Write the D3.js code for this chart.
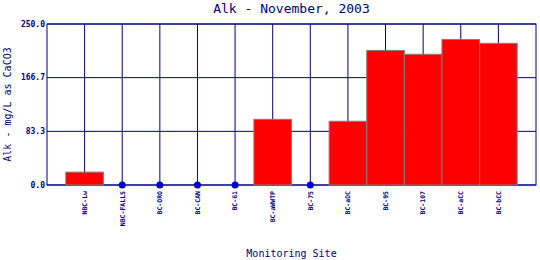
<!DOCTYPE html>
<html>
<head>
<meta charset="utf-8">
<script src="https://cdn.jsdelivr.net/npm/d3@7"></script>
<style>
  body { margin: 0; background: #fff; }
  text { font-family: "DejaVu Sans Mono", monospace; fill: #000080; }
</style>
</head>
<body>
<div id="chart"></div>
<script>
// data
const sites = ["NBC-Lw", "NBC-FALLS", "BC-ORO", "BC-CAN", "BC-61", "BC-aWWTP",
               "BC-75", "BC-aDC", "BC-95", "BC-107", "BC-aCC", "BC-bCC"];
const alkValues = [20, 0, 0, 0, 0, 102, 0, 99, 209, 203, 226, 220];
const yTicks = [0, 83.3, 166.7, 250];

const width = 540, height = 260;
const margin = { top: 24, right: 4, bottom: 75, left: 47 };

const svg = d3.select("#chart").append("svg")
    .attr("width", width)
    .attr("height", height);

const x = d3.scalePoint()
    .domain(sites)
    .range([margin.left, width - margin.right])
    .padding(1);

const y = d3.scaleLinear()
    .domain([0, 250])
    .range([height - margin.bottom, margin.top]);

const step = x.step();
const navy = "#000080";

// horizontal grid lines
svg.append("g").selectAll("line")
    .data(yTicks)
    .enter().append("line")
    .attr("x1", margin.left)
    .attr("x2", width - margin.right)
    .attr("y1", d => y(d))
    .attr("y2", d => y(d))
    .attr("stroke", navy)
    .attr("stroke-width", 1);

// vertical grid lines
svg.append("g").selectAll("line")
    .data(sites)
    .enter().append("line")
    .attr("x1", d => x(d))
    .attr("x2", d => x(d))
    .attr("y1", y(0))
    .attr("y2", y(250))
    .attr("stroke", navy)
    .attr("stroke-width", 1);

// plot border
svg.append("rect")
    .attr("x", margin.left)
    .attr("y", y(250))
    .attr("width", width - margin.right - margin.left)
    .attr("height", y(0) - y(250))
    .attr("fill", "none")
    .attr("stroke", navy)
    .attr("stroke-width", 1);

const data = sites.map((s, i) => ({ site: s, value: alkValues[i] }));

// bars
svg.append("g").selectAll("rect")
    .data(data.filter(d => d.value > 0))
    .enter().append("rect")
    .attr("x", d => x(d.site) - step / 2)
    .attr("y", d => y(d.value))
    .attr("width", step)
    .attr("height", d => y(0) - y(d.value))
    .attr("fill", "#ff0000")
    .attr("stroke", "#808080")
    .attr("stroke-width", 1);

// zero values shown as dots
svg.append("g").selectAll("circle")
    .data(data.filter(d => d.value === 0))
    .enter().append("circle")
    .attr("cx", d => x(d.site))
    .attr("cy", y(0))
    .attr("r", 3.5)
    .attr("fill", "#0000cc");

// y tick labels
svg.append("g").selectAll("text")
    .data(yTicks)
    .enter().append("text")
    .attr("x", margin.left - 2)
    .attr("y", d => y(d))
    .attr("dy", "0.35em")
    .attr("text-anchor", "end")
    .style("font-size", "8px")
    .style("font-weight", "bold")
    .text(d => d.toFixed(1));

// x tick labels
svg.append("g").selectAll("text")
    .data(sites)
    .enter().append("text")
    .attr("transform", d => `translate(${x(d)}, ${y(0) + 6}) rotate(-90)`)
    .attr("dy", "0.35em")
    .attr("text-anchor", "end")
    .style("font-size", "6.5px")
    .style("font-weight", "bold")
    .text(d => d);

// title
svg.append("text")
    .attr("x", (margin.left + width - margin.right) / 2)
    .attr("y", 13)
    .attr("text-anchor", "middle")
    .style("font-size", "13px")
    .text("Alk - November, 2003");

// axis titles
svg.append("text")
    .attr("x", (margin.left + width - margin.right) / 2)
    .attr("y", 257)
    .attr("text-anchor", "middle")
    .style("font-size", "10px")
    .text("Monitoring Site");

svg.append("text")
    .attr("transform", `translate(11, ${y(125)}) rotate(-90)`)
    .attr("text-anchor", "middle")
    .style("font-size", "10px")
    .text("Alk - mg/L as CaCO3");
</script>
</body>
</html>
